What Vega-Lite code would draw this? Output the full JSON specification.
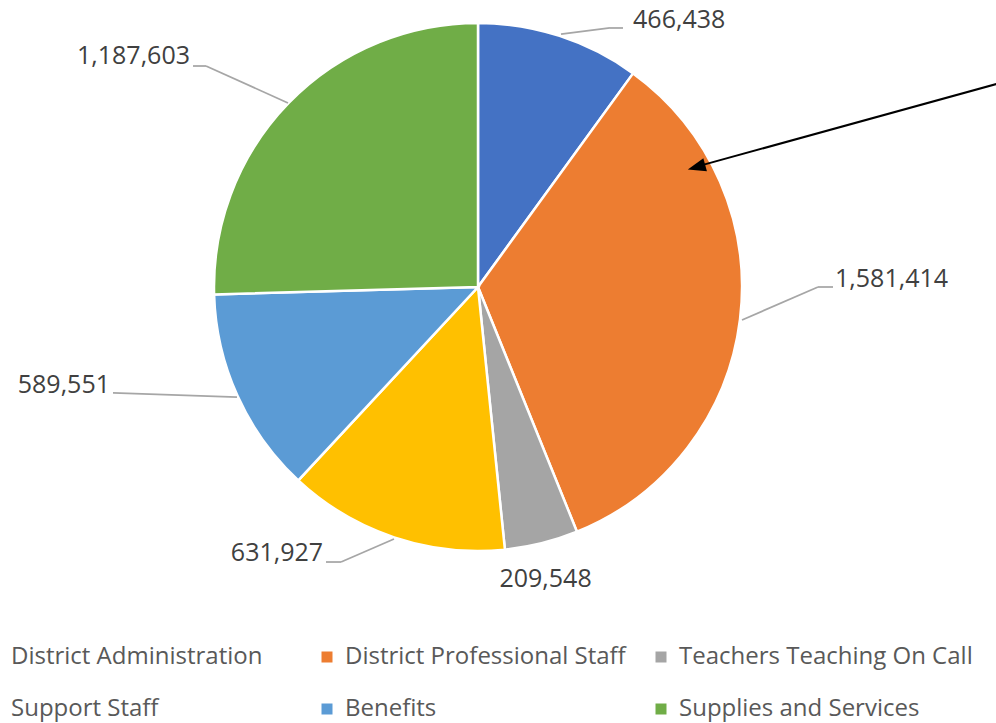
{
  "$schema": "https://vega.github.io/schema/vega-lite/v6.json",
  "width": 956,
  "height": 574,
  "autosize": {"type": "none"},
  "padding": {"left": 0, "top": 0, "right": 40, "bottom": 149},
  "background": "white",
  "config": {"view": {"stroke": null}, "font": "Open Sans"},
  "data": {
    "values": [
      {"category": "District Administration", "value": 466438, "idx": 1},
      {"category": "District Professional Staff", "value": 1581414, "idx": 2},
      {"category": "Teachers Teaching On Call", "value": 209548, "idx": 3},
      {"category": "Support Staff", "value": 631927, "idx": 4},
      {"category": "Benefits", "value": 589551, "idx": 5},
      {"category": "Supplies and Services", "value": 1187603, "idx": 6}
    ]
  },
  "layer": [
    {
      "mark": {"type": "arc", "outerRadius": 264, "stroke": "white", "strokeWidth": 2.5},
      "encoding": {
        "theta": {"field": "value", "type": "quantitative", "stack": true},
        "order": {"field": "idx", "type": "quantitative"},
        "color": {
          "field": "category",
          "type": "nominal",
          "sort": ["District Administration", "District Professional Staff", "Teachers Teaching On Call", "Support Staff", "Benefits", "Supplies and Services"],
          "scale": {
            "domain": ["District Administration", "District Professional Staff", "Teachers Teaching On Call", "Support Staff", "Benefits", "Supplies and Services"],
            "range": ["#4472C4", "#ED7D31", "#A5A5A5", "#FFC000", "#5B9BD5", "#70AD47"]
          },
          "legend": {
            "orient": "none",
            "legendX": -19,
            "legendY": 645,
            "direction": "horizontal",
            "columns": 3,
            "gridAlign": "all",
            "symbolType": "square",
            "symbolSize": 121,
            "symbolStrokeWidth": 0,
            "labelFont": "Open Sans",
            "labelFontSize": 24,
            "labelColor": "#595959",
            "labelOffset": 6,
            "labelLimit": 400,
            "columnPadding": 10,
            "rowPadding": 28,
            "padding": 0,
            "title": null
          }
        }
      }
    },
    {
      "mark": {"type": "text", "radius": 264, "dx": 73.5, "dy": -15.5, "align": "left", "baseline": "middle", "font": "Open Sans", "fontSize": 25, "fill": "#404040"},
      "encoding": {
        "theta": {"field": "value", "type": "quantitative", "stack": true},
        "order": {"field": "idx", "type": "quantitative"},
        "text": {"condition": {"test": "datum.category === 'District Administration'", "field": "value", "type": "quantitative", "format": ","}, "value": ""}
      }
    },
    {
      "mark": {"type": "text", "radius": 264, "dx": 95, "dy": -40, "align": "left", "baseline": "middle", "font": "Open Sans", "fontSize": 25, "fill": "#404040"},
      "encoding": {
        "theta": {"field": "value", "type": "quantitative", "stack": true},
        "order": {"field": "idx", "type": "quantitative"},
        "text": {"condition": {"test": "datum.category === 'District Professional Staff'", "field": "value", "type": "quantitative", "format": ","}, "value": ""}
      }
    },
    {
      "mark": {"type": "text", "radius": 264, "dx": 4, "dy": 36, "align": "center", "baseline": "middle", "font": "Open Sans", "fontSize": 25, "fill": "#404040"},
      "encoding": {
        "theta": {"field": "value", "type": "quantitative", "stack": true},
        "order": {"field": "idx", "type": "quantitative"},
        "text": {"condition": {"test": "datum.category === 'Teachers Teaching On Call'", "field": "value", "type": "quantitative", "format": ","}, "value": ""}
      }
    },
    {
      "mark": {"type": "text", "radius": 264, "dx": -71, "dy": 16, "align": "right", "baseline": "middle", "font": "Open Sans", "fontSize": 25, "fill": "#404040"},
      "encoding": {
        "theta": {"field": "value", "type": "quantitative", "stack": true},
        "order": {"field": "idx", "type": "quantitative"},
        "text": {"condition": {"test": "datum.category === 'Support Staff'", "field": "value", "type": "quantitative", "format": ","}, "value": ""}
      }
    },
    {
      "mark": {"type": "text", "radius": 264, "dx": -127.5, "dy": -10.5, "align": "right", "baseline": "middle", "font": "Open Sans", "fontSize": 25, "fill": "#404040"},
      "encoding": {
        "theta": {"field": "value", "type": "quantitative", "stack": true},
        "order": {"field": "idx", "type": "quantitative"},
        "text": {"condition": {"test": "datum.category === 'Benefits'", "field": "value", "type": "quantitative", "format": ","}, "value": ""}
      }
    },
    {
      "mark": {"type": "text", "radius": 264, "dx": -98.7, "dy": -46.5, "align": "right", "baseline": "middle", "font": "Open Sans", "fontSize": 25, "fill": "#404040"},
      "encoding": {
        "theta": {"field": "value", "type": "quantitative", "stack": true},
        "order": {"field": "idx", "type": "quantitative"},
        "text": {"condition": {"test": "datum.category === 'Supplies and Services'", "field": "value", "type": "quantitative", "format": ","}, "value": ""}
      }
    },
    {
      "data": {"values": [{}]},
      "mark": {"type": "rule", "stroke": "#A6A6A6", "strokeWidth": 1.75},
      "encoding": {
        "x": {"datum": 0.3144, "type": "quantitative", "scale": {"domain": [-1.81061, 1.81061], "nice": false, "zero": false}, "axis": null},
        "y": {"datum": 0.9583, "type": "quantitative", "scale": {"domain": [-1.08712, 1.08712], "nice": false, "zero": false}, "axis": null},
        "x2": {"datum": 0.5},
        "y2": {"datum": 0.9811}
      }
    },
    {
      "data": {"values": [{}]},
      "mark": {"type": "rule", "stroke": "#A6A6A6", "strokeWidth": 1.75},
      "encoding": {
        "x": {"datum": 0.5, "type": "quantitative", "axis": null},
        "y": {"datum": 0.9811, "type": "quantitative", "axis": null},
        "x2": {"datum": 0.5492},
        "y2": {"datum": 0.9811}
      }
    },
    {
      "data": {"values": [{}]},
      "mark": {"type": "rule", "stroke": "#A6A6A6", "strokeWidth": 1.75},
      "encoding": {
        "x": {"datum": 1.0, "type": "quantitative", "axis": null},
        "y": {"datum": -0.125, "type": "quantitative", "axis": null},
        "x2": {"datum": 1.2879},
        "y2": {"datum": 0}
      }
    },
    {
      "data": {"values": [{}]},
      "mark": {"type": "rule", "stroke": "#A6A6A6", "strokeWidth": 1.75},
      "encoding": {
        "x": {"datum": 1.2879, "type": "quantitative", "axis": null},
        "y": {"datum": 0, "type": "quantitative", "axis": null},
        "x2": {"datum": 1.3447},
        "y2": {"datum": 0}
      }
    },
    {
      "data": {"values": [{}]},
      "mark": {"type": "rule", "stroke": "#A6A6A6", "strokeWidth": 1.75},
      "encoding": {
        "x": {"datum": -0.3182, "type": "quantitative", "axis": null},
        "y": {"datum": -0.9545, "type": "quantitative", "axis": null},
        "x2": {"datum": -0.5189},
        "y2": {"datum": -1.0417}
      }
    },
    {
      "data": {"values": [{}]},
      "mark": {"type": "rule", "stroke": "#A6A6A6", "strokeWidth": 1.75},
      "encoding": {
        "x": {"datum": -0.5189, "type": "quantitative", "axis": null},
        "y": {"datum": -1.0417, "type": "quantitative", "axis": null},
        "x2": {"datum": -0.5758},
        "y2": {"datum": -1.0417}
      }
    },
    {
      "data": {"values": [{}]},
      "mark": {"type": "rule", "stroke": "#A6A6A6", "strokeWidth": 1.75},
      "encoding": {
        "x": {"datum": -0.7197, "type": "quantitative", "axis": null},
        "y": {"datum": 0.697, "type": "quantitative", "axis": null},
        "x2": {"datum": -1.0303},
        "y2": {"datum": 0.8371}
      }
    },
    {
      "data": {"values": [{}]},
      "mark": {"type": "rule", "stroke": "#A6A6A6", "strokeWidth": 1.75},
      "encoding": {
        "x": {"datum": -1.0303, "type": "quantitative", "axis": null},
        "y": {"datum": 0.8371, "type": "quantitative", "axis": null},
        "x2": {"datum": -1.0795},
        "y2": {"datum": 0.8371}
      }
    },
    {
      "data": {"values": [{}]},
      "mark": {"type": "rule", "stroke": "#A6A6A6", "strokeWidth": 1.75},
      "encoding": {
        "x": {"datum": -0.9129, "type": "quantitative", "axis": null},
        "y": {"datum": -0.4167, "type": "quantitative", "axis": null},
        "x2": {"datum": -1.3826},
        "y2": {"datum": -0.4015}
      }
    },
    {
      "data": {"values": [{}]},
      "mark": {"type": "rule", "stroke": "black", "strokeWidth": 2},
      "encoding": {
        "x": {"datum": 0.8246, "type": "quantitative", "axis": null},
        "y": {"datum": 0.4549, "type": "quantitative", "axis": null},
        "x2": {"datum": 1.9773},
        "y2": {"datum": 0.7727}
      }
    },
    {
      "data": {"values": [{}]},
      "mark": {"type": "point", "shape": "M-1,0L1,-0.75L1,0.75Z", "size": 324, "angle": 344.6, "filled": true, "fill": "black", "stroke": null, "opacity": 1},
      "encoding": {
        "x": {"datum": 0.8275, "type": "quantitative", "axis": null},
        "y": {"datum": 0.4541, "type": "quantitative", "axis": null}
      }
    }
  ]
}
